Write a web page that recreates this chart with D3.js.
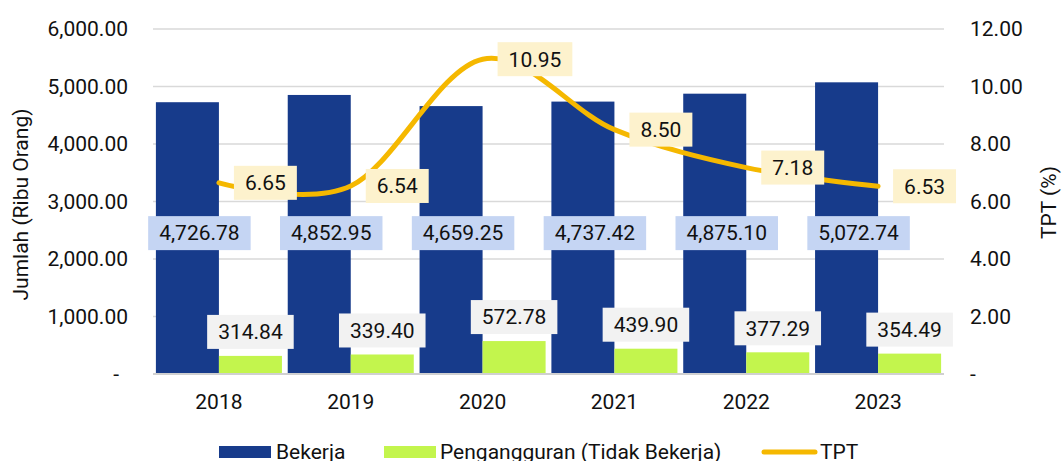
<!DOCTYPE html>
<html>
<head>
<meta charset="utf-8">
<script src="https://cdn.jsdelivr.net/npm/d3@7/dist/d3.min.js"></script>
<style>
  html, body { margin: 0; padding: 0; background: #fff; }
  svg { display: block; font-family: Roboto, "Noto Sans", sans-serif; }
</style>
</head>
<body>
<svg id="chart" width="1064" height="461"></svg>
<script>
// ---- data ----
const years = ["2018", "2019", "2020", "2021", "2022", "2023"];
const bekerja = [4726.78, 4852.95, 4659.25, 4737.42, 4875.10, 5072.74];
const pengangguran = [314.84, 339.40, 572.78, 439.90, 377.29, 354.49];
const tpt = [6.65, 6.54, 10.95, 8.50, 7.18, 6.53];
const leftTicks = [0, 1000, 2000, 3000, 4000, 5000, 6000];
const rightTicks = [0, 2, 4, 6, 8, 10, 12];
const seriesNames = ["Bekerja", "Pengangguran (Tidak Bekerja)", "TPT"];

// ---- styles ----
const C = {
  blue: "#173B8B",
  green: "#C3F54D",
  yellow: "#F5B800",
  blueLbl: "#C5D5F3",
  greyLbl: "#F2F2F2",
  yellowLbl: "#FDF2CD",
  grid: "#D9D9D9",
  text: "#111"
};
const FS = 21;

const svg = d3.select("#chart");
const plot = { left: 153, right: 944, top: 29, bottom: 374 };

const x0 = d3.scaleBand().domain(years).range([plot.left, plot.right]).paddingInner(0).paddingOuter(0);
const x1 = d3.scaleBand().domain(["b", "p"]).range([0, x0.bandwidth()]).paddingInner(0).paddingOuter(0.046);
const yL = d3.scaleLinear().domain([0, 6000]).range([plot.bottom, plot.top]);
const yR = d3.scaleLinear().domain([0, 12]).range([plot.bottom, plot.top]);

const fmt = d3.format(",.2f");

// gridlines
svg.append("g").selectAll("line").data(leftTicks.filter(d => d > 0)).join("line")
  .attr("x1", plot.left).attr("x2", plot.right)
  .attr("y1", d => yL(d)).attr("y2", d => yL(d))
  .attr("stroke", C.grid).attr("stroke-width", 1.5);

// left axis labels
svg.append("g").selectAll("text").data(leftTicks).join("text")
  .attr("x", d => d === 0 ? 119 : 128)
  .attr("y", d => yL(d)).attr("dy", "0.35em")
  .attr("text-anchor", "end").attr("font-size", FS).attr("fill", C.text)
  .text(d => d === 0 ? "-" : fmt(d));

// right axis labels
svg.append("g").selectAll("text").data(rightTicks).join("text")
  .attr("x", 970)
  .attr("y", d => yR(d)).attr("dy", "0.35em")
  .attr("text-anchor", "start").attr("font-size", FS).attr("fill", C.text)
  .text(d => d === 0 ? "-" : fmt(d));

// axis titles
svg.append("text")
  .attr("transform", `translate(28,${(plot.top + plot.bottom) / 2 + 3}) rotate(-90)`)
  .attr("text-anchor", "middle").attr("font-size", FS).attr("fill", C.text)
  .text("Jumlah (Ribu Orang)");
svg.append("text")
  .attr("transform", `translate(1056,${(plot.top + plot.bottom) / 2 + 1}) rotate(-90)`)
  .attr("text-anchor", "middle").attr("font-size", FS).attr("fill", C.text)
  .text("TPT (%)");

// bars
const groups = svg.append("g").selectAll("g").data(years).join("g")
  .attr("transform", d => `translate(${x0(d)},0)`);

groups.append("rect")
  .attr("x", x1("b")).attr("width", x1.bandwidth())
  .attr("y", (d, i) => yL(bekerja[i]))
  .attr("height", (d, i) => yL(0) - yL(bekerja[i]))
  .attr("fill", C.blue);
groups.append("rect")
  .attr("x", x1("p")).attr("width", x1.bandwidth())
  .attr("y", (d, i) => yL(pengangguran[i]))
  .attr("height", (d, i) => yL(0) - yL(pengangguran[i]))
  .attr("fill", C.green);

// base axis line
svg.append("line")
  .attr("x1", plot.left).attr("x2", plot.right)
  .attr("y1", yL(0)).attr("y2", yL(0))
  .attr("stroke", "#D0D0D0").attr("stroke-width", 2);

// x tick labels
svg.append("g").selectAll("text").data(years).join("text")
  .attr("x", d => x0(d) + x0.bandwidth() / 2)
  .attr("y", 409)
  .attr("text-anchor", "middle").attr("font-size", FS).attr("fill", C.text)
  .text(d => d);

// TPT line
const pts = years.map((d, i) => [x0(d) + x0.bandwidth() / 2, yR(tpt[i])]);
svg.append("path")
  .attr("d", d3.line().curve(d3.curveCardinal.tension(0))(pts))
  .attr("fill", "none").attr("stroke", C.yellow).attr("stroke-width", 5)
  .attr("stroke-linecap", "round");

// label helper
function boxLabel(g, cx, cy, txt, bg, anchor) {
  const t = g.append("text").attr("font-size", FS).attr("fill", C.text)
    .attr("dy", "0.35em").text(txt);
  const w = t.node().getComputedTextLength();
  const padX = 11, h = 34;
  let left = anchor === "start" ? cx : cx - (w + 2 * padX) / 2;
  g.insert("rect", "text")
    .attr("x", left).attr("y", cy - h / 2)
    .attr("width", w + 2 * padX).attr("height", h)
    .attr("fill", bg);
  t.attr("x", left + padX).attr("y", cy);
}

const lblLayer = svg.append("g");
years.forEach((d, i) => {
  // Bekerja labels
  const gb = lblLayer.append("g");
  boxLabel(gb, x0(d) + x1("b") + x1.bandwidth() / 2 + 12, yL(2450), fmt(bekerja[i]), C.blueLbl, "middle");
  // Pengangguran labels
  const gp = lblLayer.append("g");
  boxLabel(gp, x0(d) + x1("p") + x1.bandwidth() / 2, yL(pengangguran[i]) - 24, fmt(pengangguran[i]), C.greyLbl, "middle");
  // TPT labels
  const gt = lblLayer.append("g");
  boxLabel(gt, pts[i][0] + 15, pts[i][1], fmt(tpt[i]), C.yellowLbl, "start");
});

// legend
const leg = svg.append("g");
const legY = 452;
leg.append("rect").attr("x", 219).attr("y", legY - 6).attr("width", 52).attr("height", 12).attr("fill", C.blue);
leg.append("text").attr("x", 276).attr("y", 458.5).attr("font-size", FS).attr("fill", C.text).text(seriesNames[0]);
leg.append("rect").attr("x", 384).attr("y", legY - 6).attr("width", 52).attr("height", 12).attr("fill", C.green);
leg.append("text").attr("x", 440).attr("y", 458.5).attr("font-size", FS).attr("fill", C.text).text(seriesNames[1]);
leg.append("line").attr("x1", 764).attr("x2", 815).attr("y1", legY).attr("y2", legY)
  .attr("stroke", C.yellow).attr("stroke-width", 5).attr("stroke-linecap", "round");
leg.append("text").attr("x", 820).attr("y", 458.5).attr("font-size", FS).attr("fill", C.text).text(seriesNames[2]);
</script>
</body>
</html>
